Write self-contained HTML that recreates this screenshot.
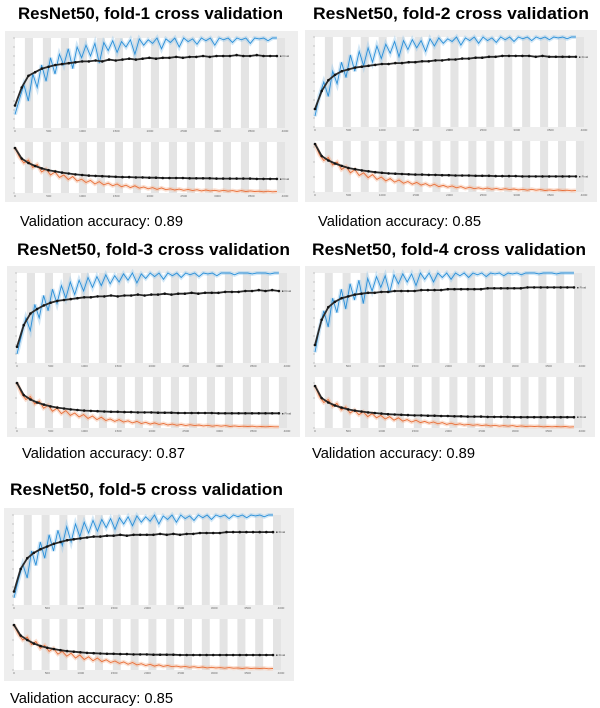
<!DOCTYPE html>
<html><head><meta charset="utf-8"><style>
html,body{margin:0;padding:0;background:#fff;}
svg{display:block;font-family:"Liberation Sans",Arial,sans-serif;}
</style></head><body>
<svg id="root" width="600" height="708" viewBox="0 0 600 708">
<g>
<text x="18" y="19" font-size="17" font-weight="bold" textLength="265" lengthAdjust="spacingAndGlyphs">ResNet50, fold-1 cross validation</text>
<text x="313" y="19" font-size="17" font-weight="bold" textLength="276" lengthAdjust="spacingAndGlyphs">ResNet50, fold-2 cross validation</text>
<text x="17" y="255" font-size="17" font-weight="bold" textLength="273" lengthAdjust="spacingAndGlyphs">ResNet50, fold-3 cross validation</text>
<text x="312" y="255" font-size="17" font-weight="bold" textLength="274" lengthAdjust="spacingAndGlyphs">ResNet50, fold-4 cross validation</text>
<text x="10" y="495" font-size="17" font-weight="bold" textLength="273" lengthAdjust="spacingAndGlyphs">ResNet50, fold-5 cross validation</text>
<text x="20" y="226" font-size="15" textLength="163" lengthAdjust="spacingAndGlyphs">Validation accuracy: 0.89</text>
<text x="318" y="226" font-size="15" textLength="163" lengthAdjust="spacingAndGlyphs">Validation accuracy: 0.85</text>
<text x="22" y="458" font-size="15" textLength="163" lengthAdjust="spacingAndGlyphs">Validation accuracy: 0.87</text>
<text x="312" y="458" font-size="15" textLength="163" lengthAdjust="spacingAndGlyphs">Validation accuracy: 0.89</text>
<text x="10" y="703" font-size="15" textLength="163" lengthAdjust="spacingAndGlyphs">Validation accuracy: 0.85</text>
</g>
</svg>
<script>
const xTicks=[0,500,1000,1500,2000,2500,3000,3500,4000];
const accTicks=[0,10,20,30,40,50,60,70,80,90,100];
const lossTicks=[0,0.5,1,1.5];
const epochs=15;
// fold 1
const trainAcc1=[15,32,48,30,60,45,70,52,78,60,82,70,88,66,90,78,92,80,94,72,95,86,97,84,96,90,98,82,99,92,98,94,100,88,99,95,100,90,100,96,99,93,100,97,100,92,100,98,100,95,100,98,100,94,100,99,100,97,100,100];
const valAcc1=[25,45,58,62,66,68,70,71,72,73,74,74,75,74,76,75,76,77,76,77,78,77,78,78,79,78,79,79,80,79,80,80,80,81,80,80,81,80,80,80];
const trainLoss1=[1.5,1.2,1.0,1.1,0.85,0.95,0.7,0.8,0.6,0.7,0.52,0.6,0.45,0.55,0.4,0.46,0.35,0.42,0.3,0.38,0.27,0.33,0.24,0.3,0.21,0.26,0.18,0.24,0.16,0.2,0.14,0.18,0.12,0.17,0.11,0.14,0.1,0.13,0.09,0.12,0.08,0.11,0.07,0.1,0.07,0.09,0.06,0.09,0.06,0.08,0.05,0.08,0.05,0.07,0.05,0.06,0.04,0.06,0.04,0.05];
const valLoss1=[1.5,1.15,1.0,0.9,0.82,0.76,0.72,0.68,0.65,0.62,0.6,0.58,0.57,0.56,0.55,0.54,0.53,0.53,0.52,0.52,0.51,0.51,0.5,0.5,0.5,0.5,0.49,0.49,0.49,0.49,0.48,0.48,0.48,0.48,0.48,0.48,0.47,0.47,0.47,0.47];
// fold 2
const trainAcc2=[12,35,50,34,62,48,72,55,80,62,84,68,88,72,90,76,92,82,95,78,96,86,97,88,96,84,98,90,99,93,98,95,100,91,99,96,100,93,100,96,99,94,100,97,100,95,100,98,100,96,100,98,100,97,100,99,100,98,100,100];
const valAcc2=[20,40,52,58,62,64,66,67,68,69,70,70,71,71,72,72,73,73,74,74,75,75,76,76,77,77,78,78,79,79,79,79,79,78,79,78,78,78,78,78];
const trainLoss2=[1.6,1.25,1.05,1.15,0.9,1.0,0.75,0.85,0.64,0.75,0.55,0.64,0.48,0.58,0.42,0.5,0.37,0.45,0.33,0.4,0.29,0.35,0.26,0.32,0.23,0.28,0.2,0.26,0.18,0.22,0.16,0.2,0.14,0.18,0.12,0.16,0.11,0.14,0.1,0.13,0.09,0.12,0.08,0.11,0.08,0.1,0.07,0.09,0.06,0.09,0.06,0.08,0.05,0.07,0.05,0.07,0.05,0.06,0.04,0.05];
const valLoss2=[1.6,1.2,1.05,0.95,0.87,0.8,0.76,0.72,0.69,0.66,0.64,0.62,0.61,0.6,0.59,0.58,0.58,0.57,0.57,0.56,0.56,0.55,0.55,0.55,0.54,0.54,0.54,0.53,0.53,0.53,0.53,0.52,0.52,0.52,0.52,0.52,0.52,0.52,0.52,0.52];
// fold 3
const trainAcc3=[10,30,50,36,65,50,75,58,82,66,86,72,90,76,92,80,95,84,96,86,98,88,97,90,99,92,100,89,99,94,100,96,100,93,100,97,100,95,100,98,100,96,100,99,100,97,100,100,100,98,100,100,100,99,100,100,100,99,100,100];
const valAcc3=[18,42,55,60,64,67,69,70,71,72,73,73,74,74,75,74,75,75,76,75,76,76,77,76,77,77,78,77,78,78,78,79,79,79,80,80,81,80,81,80];
const trainLoss3=[1.5,1.15,0.95,1.05,0.8,0.9,0.66,0.76,0.56,0.66,0.48,0.58,0.42,0.5,0.37,0.45,0.32,0.4,0.28,0.36,0.25,0.3,0.22,0.28,0.2,0.24,0.17,0.22,0.15,0.19,0.13,0.17,0.12,0.15,0.1,0.13,0.09,0.12,0.08,0.11,0.08,0.1,0.07,0.09,0.06,0.08,0.06,0.08,0.05,0.07,0.05,0.06,0.05,0.06,0.04,0.05,0.04,0.05,0.04,0.04];
const valLoss3=[1.5,1.1,0.95,0.85,0.78,0.72,0.68,0.65,0.62,0.6,0.58,0.57,0.56,0.55,0.54,0.54,0.53,0.53,0.52,0.52,0.52,0.51,0.51,0.51,0.5,0.5,0.5,0.5,0.5,0.5,0.49,0.49,0.49,0.49,0.49,0.49,0.49,0.49,0.49,0.49];
// fold 4
const trainAcc4=[12,38,58,40,72,56,82,60,88,70,92,66,94,80,96,84,97,78,98,88,99,90,99,86,100,93,100,90,100,95,100,93,100,97,100,95,100,98,100,96,100,99,100,97,100,99,100,98,100,100,100,99,100,100,100,99,100,100,100,100];
const valAcc4=[20,48,62,68,72,74,76,77,78,78,79,79,80,80,80,80,81,81,81,81,82,82,82,82,82,82,83,83,83,83,83,83,84,84,84,84,84,84,84,84];
const trainLoss4=[1.4,1.05,0.85,0.95,0.72,0.82,0.6,0.7,0.5,0.6,0.44,0.54,0.38,0.48,0.34,0.42,0.3,0.38,0.26,0.34,0.23,0.28,0.2,0.26,0.18,0.22,0.16,0.2,0.14,0.18,0.12,0.16,0.11,0.14,0.1,0.12,0.09,0.11,0.08,0.1,0.07,0.09,0.06,0.08,0.06,0.08,0.05,0.07,0.05,0.06,0.05,0.06,0.04,0.05,0.04,0.05,0.04,0.05,0.03,0.04];
const valLoss4=[1.4,1.0,0.85,0.75,0.68,0.62,0.58,0.55,0.52,0.5,0.48,0.46,0.45,0.44,0.43,0.42,0.42,0.41,0.41,0.4,0.4,0.39,0.39,0.38,0.38,0.38,0.37,0.37,0.37,0.37,0.36,0.36,0.36,0.36,0.36,0.36,0.36,0.36,0.36,0.36];
// fold 5
const trainAcc5=[8,28,45,30,60,44,70,52,78,60,83,66,87,70,90,76,92,80,94,82,95,86,96,84,97,90,98,88,99,92,98,93,100,90,99,95,100,92,100,96,99,94,100,97,100,95,100,98,100,96,100,98,100,97,100,99,100,98,100,100];
const valAcc5=[15,40,52,58,62,65,68,70,72,73,74,75,76,76,77,77,78,77,78,78,78,78,79,78,79,78,79,79,80,80,80,80,81,81,81,81,81,81,81,81];
const trainLoss5=[1.5,1.2,1.0,1.1,0.85,0.95,0.72,0.82,0.62,0.72,0.53,0.62,0.46,0.56,0.4,0.5,0.35,0.44,0.31,0.4,0.28,0.34,0.25,0.3,0.22,0.27,0.19,0.25,0.17,0.21,0.15,0.19,0.13,0.17,0.12,0.15,0.11,0.13,0.1,0.12,0.09,0.11,0.08,0.1,0.07,0.09,0.07,0.08,0.06,0.08,0.06,0.07,0.05,0.07,0.05,0.06,0.05,0.06,0.04,0.05];
const valLoss5=[1.5,1.15,1.0,0.88,0.8,0.74,0.7,0.66,0.63,0.61,0.59,0.57,0.56,0.55,0.54,0.54,0.53,0.53,0.52,0.52,0.52,0.51,0.51,0.51,0.51,0.5,0.5,0.5,0.5,0.5,0.5,0.5,0.5,0.5,0.5,0.5,0.5,0.5,0.5,0.5];
const maxIter=4000;

const NS='http://www.w3.org/2000/svg';
const root=document.getElementById('root');
function mk(tag,attrs,parent){const e=document.createElementNS(NS,tag);for(const k in attrs)e.setAttribute(k,attrs[k]);parent.appendChild(e);return e;}

function drawPlot(g,x0,y0,w,h,yMax,yTicks,trainS,valS,trainColor,shadeColor,prefix){
  const bg=mk('rect',{x:x0,y:y0,width:w,height:h,fill:'#fff'},g);
  
  
  const per=w/epochs;
  for(let i=0;i<epochs;i++){
    const b=mk('rect',{x:x0+per*i+per*0.55,y:y0,width:per*0.45,height:h,fill:'#e4e4e4'},g);
    
    
  }
  const sx=v=>x0+v/maxIter*w;
  const sy=v=>y0+h-v/yMax*h;
  yTicks.forEach(t=>{
    const tl=mk('line',{x1:x0-2,x2:x0,y1:sy(t),y2:sy(t),stroke:'#999','stroke-width':0.5},g);
    
    
  });
  xTicks.forEach(t=>{
    const tx=mk('text',{x:sx(t),y:y0+h+4,'font-size':3,'text-anchor':'middle',fill:'#666'},g);
    tx.textContent=t;
    
    
  });
  const n=trainS.length;
  const xt=i=>sx(i/(n-1)*maxIter*0.97);
  const tp=trainS.map((v,i)=>xt(i).toFixed(1)+','+sy(v).toFixed(1)).join(' ');
  const sh=mk('polyline',{points:tp,fill:'none',stroke:shadeColor,'stroke-width':4,opacity:0.45},g);
  
  
  const tl=mk('polyline',{points:tp,fill:'none',stroke:trainColor,'stroke-width':0.9},g);
  
  
  const m=valS.length;
  const xv=i=>sx(i/(m-1)*maxIter*0.97);
  const vp=valS.map((v,i)=>xv(i).toFixed(1)+','+sy(v).toFixed(1)).join(' ');
  const vl=mk('polyline',{points:vp,fill:'none',stroke:'#2a2a2a','stroke-width':1.8},g);
  
  
  valS.forEach((v,i)=>{
    const c=mk('circle',{cx:xv(i),cy:sy(v),r:1.3,fill:'#111'},g);
    
    
  });
  const lg=mk('text',{x:xv(m-1)+3,y:sy(valS[m-1])+1,'font-size':3,fill:'#444'},g);
  lg.textContent='■ Final';
  
  
}

function panel(id,bx,by,bw,bh,tA,vA,tL,vL){
  const g=mk('g',{},root);
  
  
  const box=mk('rect',{x:bx,y:by,width:bw,height:bh,fill:'#eeeeee'},g);
  
  
  const px=bx+10,pw=bw-23;
  drawPlot(g,px,by+7,pw,90,100,accTicks,tA,vA,'#2a8fd8','#9cc9ec','accuracy-fold-'+id);
  drawPlot(g,px,by+111,pw,51,1.7,lossTicks,tL,vL,'#e8703a','#f3b89a','loss-fold-'+id);
}
panel(1,5,31,293,171,trainAcc1,valAcc1,trainLoss1,valLoss1);
panel(2,305,30,292,172,trainAcc2,valAcc2,trainLoss2,valLoss2);
panel(3,7,266,293,171,trainAcc3,valAcc3,trainLoss3,valLoss3);
panel(4,305,266,290,171,trainAcc4,valAcc4,trainLoss4,valLoss4);
panel(5,4,508,290,173,trainAcc5,valAcc5,trainLoss5,valLoss5);
</script>
</body></html>
